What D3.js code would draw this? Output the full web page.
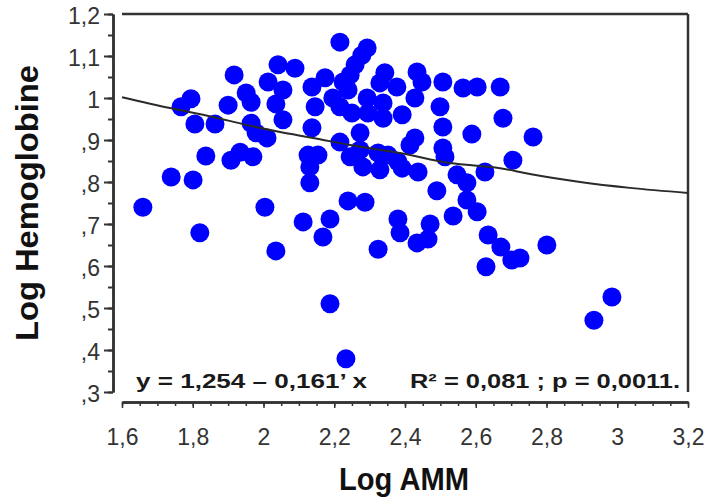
<!DOCTYPE html>
<html>
<head>
<meta charset="utf-8">
<script src="https://cdn.jsdelivr.net/npm/d3@7"></script>
<style>
  html, body { margin: 0; padding: 0; background: #fff; }
  svg { display: block; }
</style>
</head>
<body>
<svg id="chart" width="712" height="499"></svg>
<script>
// ---- Data ----
const logAMM = [
  1.659, 1.739, 1.801, 1.767, 1.795, 1.806, 1.863, 1.837, 1.900, 1.917,
  1.908, 1.934, 1.970, 1.951, 1.965, 1.965, 1.979, 2.010, 1.820, 2.004,
  2.035, 2.041, 2.089, 2.013, 2.055, 2.035, 2.055, 2.137, 2.146, 2.137,
  2.126, 2.154, 2.131, 2.131, 2.112, 2.168, 2.188, 2.174, 2.196, 2.216,
  2.250, 2.216, 2.293, 2.278, 2.259, 2.245, 2.225, 2.239, 2.293, 2.338,
  2.295, 2.338, 2.392, 2.343, 2.329, 2.377, 2.434, 2.448, 2.507, 2.564,
  2.604, 2.669, 2.428, 2.499, 2.677, 2.507, 2.589, 2.762, 2.273, 2.216,
  2.245, 2.273, 2.281, 2.324, 2.352, 2.329, 2.380, 2.392, 2.428, 2.414,
  2.507, 2.513, 2.437, 2.547, 2.575, 2.626, 2.705, 2.490, 2.575, 2.604,
  2.536, 2.239, 2.287, 2.380, 2.386, 2.471, 2.465, 2.434, 2.324, 2.635,
  2.671, 2.702, 2.725, 2.629, 2.801, 2.985, 2.934, 2.188, 2.233
];
const logHemoglobine = [
  0.740, 0.812, 0.805, 0.979, 0.998, 0.938, 0.938, 0.862, 0.983, 1.055,
  0.852, 0.871, 0.860, 1.012, 0.990, 0.940, 0.917, 0.905, 0.679, 0.740,
  0.636, 1.079, 1.071, 1.038, 1.019, 0.986, 0.948, 1.026, 0.979, 0.929,
  0.864, 0.864, 0.836, 0.798, 0.705, 0.669, 0.712, 1.048, 1.000, 0.979,
  0.964, 1.133, 1.119, 1.102, 1.079, 1.055, 1.038, 1.019, 1.000, 0.988,
  0.964, 0.952, 0.960, 1.060, 1.036, 1.026, 1.062, 1.038, 1.038, 1.024,
  1.026, 1.026, 1.000, 0.979, 0.952, 0.931, 0.914, 0.907, 0.917, 0.895,
  0.860, 0.876, 0.836, 0.869, 0.864, 0.829, 0.848, 0.833, 0.905, 0.888,
  0.881, 0.860, 0.824, 0.817, 0.798, 0.824, 0.852, 0.779, 0.757, 0.729,
  0.719, 0.755, 0.752, 0.712, 0.679, 0.700, 0.664, 0.655, 0.640, 0.674,
  0.645, 0.614, 0.619, 0.598, 0.650, 0.526, 0.471, 0.510, 0.379
];
// fitted curve as drawn in the reference
const fitX = [1.600, 1.736, 1.857, 1.951, 2.047, 2.140, 2.245, 2.386, 2.527, 2.669, 2.753, 2.895, 3.036, 3.200];
const fitY = [1.002, 0.976, 0.955, 0.936, 0.919, 0.905, 0.888, 0.869, 0.845, 0.833, 0.819, 0.800, 0.786, 0.774];

const xTicks = [1.6, 1.8, 2.0, 2.2, 2.4, 2.6, 2.8, 3.0, 3.2];
const xTickLabels = ["1,6", "1,8", "2", "2,2", "2,4", "2,6", "2,8", "3", "3,2"];
const yTicks = [0.3, 0.4, 0.5, 0.6, 0.7, 0.8, 0.9, 1.0, 1.1, 1.2];
const yTickLabels = [",3", ",4", ",5", ",6", ",7", ",8", ",9", "1", "1,1", "1,2"];
const xMinorTicks = d3.range(0, 33).map(i => +(1.6 + i * 0.05).toFixed(2));
const yMinorTicks = d3.range(0, 19).map(i => +(0.3 + i * 0.05).toFixed(2));

const eqText = "y = 1,254 \u2013 0,161\u2019 x";
const statText = "R\u00B2 = 0,081 ;  p = 0,0011.";
const xTitle = "Log AMM";
const yTitle = "Log Hemoglobine";

// ---- Drawing ----
const svg = d3.select("#chart");
const x = d3.scaleLinear().domain([1.6, 3.2]).range([122, 688]);
const y = d3.scaleLinear().domain([0.3, 1.2]).range([392, 14]);
const axisColor = "#333";
const font = "'Liberation Sans', Arial, sans-serif";

// frame: top and right lines
svg.append("line").attr("x1", x(1.6)).attr("x2", x(3.2)).attr("y1", y(1.2)).attr("y2", y(1.2))
  .attr("stroke", axisColor).attr("stroke-width", 2.5);
svg.append("line").attr("x1", x(3.2)).attr("x2", x(3.2)).attr("y1", y(1.2)).attr("y2", y(0.3))
  .attr("stroke", axisColor).attr("stroke-width", 2.5);

// left axis
const yAxisG = svg.append("g").attr("transform", "translate(113,0)");
yAxisG.call(d3.axisLeft(y).tickValues(yMinorTicks).tickSize(5).tickSizeOuter(0).tickFormat(""));
yAxisG.call(g => g.append("g").call(
  d3.axisLeft(y).tickValues(yTicks).tickSize(9).tickSizeOuter(0)
    .tickFormat((d, i) => yTickLabels[i])));
yAxisG.selectAll("path.domain").attr("stroke", axisColor).attr("stroke-width", 2.5);
yAxisG.selectAll("line").attr("stroke", axisColor).attr("stroke-width", 2);
yAxisG.selectAll("text").attr("x", -13).attr("dy", "0.42em")
  .style("font-family", font).style("font-size", "23px").attr("fill", "#333");

// bottom axis
const xAxisG = svg.append("g").attr("transform", "translate(0,402)");
xAxisG.call(d3.axisBottom(x).tickValues(xMinorTicks).tickSize(4).tickSizeOuter(0).tickFormat(""));
xAxisG.call(g => g.append("g").call(
  d3.axisBottom(x).tickValues(xTicks).tickSize(6).tickSizeOuter(0)
    .tickFormat((d, i) => xTickLabels[i])));
xAxisG.selectAll("path.domain").attr("stroke", axisColor).attr("stroke-width", 2.5);
xAxisG.selectAll("line").attr("stroke", axisColor).attr("stroke-width", 1.5);
xAxisG.selectAll("text").attr("y", 43).attr("dy", 0)
  .style("font-family", font).style("font-size", "23px").attr("fill", "#333");

// points
const pts = logAMM.map((v, i) => [v, logHemoglobine[i]]);
svg.append("g").selectAll("circle").data(pts).join("circle")
  .attr("cx", d => x(d[0])).attr("cy", d => y(d[1])).attr("r", 9.5)
  .attr("fill", "#0000ff");

// fit line
const fitPts = fitX.map((v, i) => [v, fitY[i]]);
svg.append("path").datum(fitPts)
  .attr("d", d3.line().x(d => x(d[0])).y(d => y(d[1])).curve(d3.curveMonotoneX))
  .attr("fill", "none").attr("stroke", "#2a2a2a").attr("stroke-width", 2);

// equation texts
svg.append("text").attr("x", 136).attr("y", 388).text(eqText)
  .attr("textLength", 231).attr("lengthAdjust", "spacingAndGlyphs")
  .style("font-family", font).style("font-weight", "bold").style("font-size", "21px").attr("fill", "#1a1a1a");
svg.append("text").attr("x", 410).attr("y", 388).text(statText)
  .attr("textLength", 270).attr("lengthAdjust", "spacingAndGlyphs")
  .style("font-family", font).style("font-weight", "bold").style("font-size", "21px").attr("fill", "#1a1a1a");

// axis titles
svg.append("text").attr("x", 404).attr("y", 490).attr("text-anchor", "middle").text(xTitle)
  .attr("textLength", 130).attr("lengthAdjust", "spacingAndGlyphs")
  .style("font-family", font).style("font-weight", "bold").style("font-size", "31px").attr("fill", "#111");
svg.append("text").attr("transform", "translate(38,203) rotate(-90)").attr("text-anchor", "middle").text(yTitle)
  .attr("textLength", 276).attr("lengthAdjust", "spacingAndGlyphs")
  .style("font-family", font).style("font-weight", "bold").style("font-size", "31px").attr("fill", "#111");
</script>
</body>
</html>
